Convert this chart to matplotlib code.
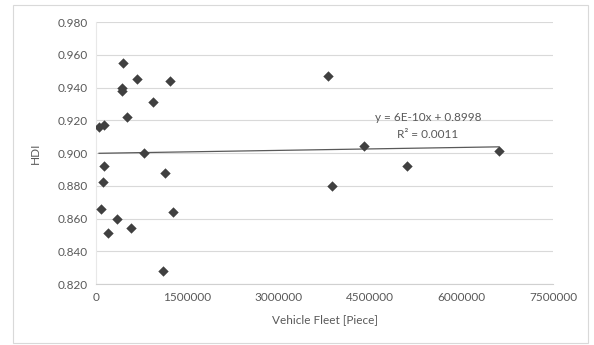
import numpy as np
import matplotlib.pyplot as plt
from matplotlib.patches import Rectangle

# vehicle fleet (pieces) vs HDI
fleet = [50000, 130000, 440000, 430000, 430000, 670000, 1210000, 940000,
         510000, 790000, 130000, 1130000, 120000, 80000, 340000, 190000,
         570000, 1260000, 1100000, 3810000, 4400000, 5100000, 6610000, 3870000]
hdi = [0.916, 0.917, 0.955, 0.940, 0.938, 0.945, 0.944, 0.931,
       0.922, 0.900, 0.892, 0.888, 0.882, 0.866, 0.860, 0.851,
       0.854, 0.864, 0.828, 0.947, 0.904, 0.892, 0.901, 0.880]

# trendline as given on the chart
slope = 6e-10
intercept = 0.8998
eq_text = "y = 6E-10x + 0.8998"
r2_text = "R² = 0.0011"

x_ticks = [0, 1500000, 3000000, 4500000, 6000000, 7500000]
y_ticks = [0.82, 0.84, 0.86, 0.88, 0.90, 0.92, 0.94, 0.96, 0.98]

plt.rcParams["font.family"] = ["Lato", "DejaVu Sans"]

fig = plt.figure(figsize=(5.94, 3.45), dpi=100)
fig.patches.append(Rectangle((13 / 594, 0.005), 575 / 594, 0.98, transform=fig.transFigure,
                             fill=False, edgecolor="#d9d9d9", linewidth=0.8))
ax = fig.add_axes([0.1616, 0.1768, 0.7694, 0.7594])

ax.scatter(fleet, hdi, marker="D", s=28, color="#404040", zorder=3, linewidths=0)

tx = np.array([min(fleet), max(fleet)])
ax.plot(tx, slope * tx + intercept, color="#595959", linewidth=0.9, zorder=2)

ax.text(5450000, 0.9218, eq_text, ha="center", va="center", fontsize=8.5, color="#595959")
ax.text(5450000, 0.9114, r2_text, ha="center", va="center", fontsize=8.5, color="#595959")

ax.set_xlim(0, 7500000)
ax.set_ylim(0.82, 0.98)
ax.set_xticks(x_ticks)
ax.set_xticklabels([str(t) for t in x_ticks])
ax.set_yticks(y_ticks)
ax.set_yticklabels([f"{t:.3f}" for t in y_ticks])
ax.tick_params(length=0, labelsize=8.5, labelcolor="#595959", pad=6)
ax.grid(axis="y", color="#d9d9d9", linewidth=0.8)
ax.set_axisbelow(True)
for side in ["top", "right"]:
    ax.spines[side].set_visible(False)
ax.spines["left"].set_color("#e8e8e8")
ax.spines["bottom"].set_color("#d0d0d0")
ax.spines["left"].set_linewidth(0.8)
ax.spines["bottom"].set_linewidth(0.8)

ax.set_xlabel("Vehicle Fleet [Piece]", fontsize=8.5, color="#595959", labelpad=8)
ax.set_ylabel("HDI", fontsize=8.5, color="#595959", labelpad=12)

fig.savefig("out.png", dpi=100)
